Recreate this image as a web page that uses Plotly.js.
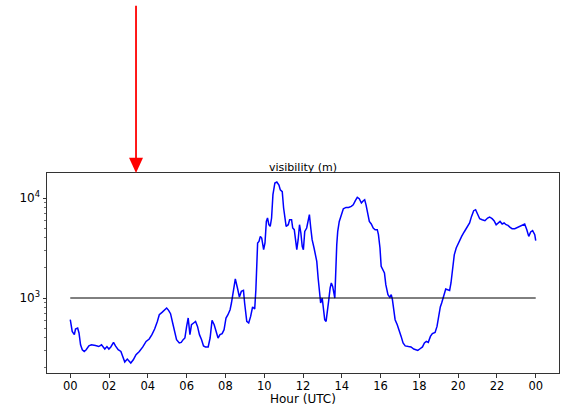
<!DOCTYPE html>
<html>
<head>
<meta charset="utf-8">
<script src="https://cdn.plot.ly/plotly-3.0.1.min.js"></script>
<style>html,body{margin:0;padding:0;background:#fff;}#chart{width:563px;height:405px;}</style>
</head>
<body>
<div id="chart"></div>
<script>
var hours = [
0.00,0.10,0.21,0.27,0.38,0.45,0.53,0.62,0.72,0.82,
0.96,1.09,1.30,1.47,1.61,1.68,1.78,1.89,1.99,2.09,
2.23,2.33,2.47,2.61,2.71,2.81,2.94,3.12,3.25,3.39,
3.56,3.74,3.91,4.07,4.21,4.35,4.49,4.59,4.73,4.87,
4.97,5.07,5.17,5.28,5.38,5.48,5.62,5.72,5.82,5.91,
6.00,6.08,6.17,6.25,6.36,6.46,6.56,6.66,6.77,6.87,
6.97,7.11,7.21,7.31,7.42,7.52,7.62,7.72,7.83,7.93,
8.03,8.13,8.24,8.31,8.41,8.51,8.62,8.72,8.82,8.93,
8.99,9.10,9.20,9.30,9.40,9.51,9.57,9.59,9.66,9.73,
9.80,9.87,9.97,10.04,10.11,10.17,10.24,10.31,10.38,10.45,
10.55,10.65,10.76,10.83,10.93,11.00,11.06,11.13,11.24,11.31,
11.41,11.47,11.55,11.61,11.68,11.75,11.82,11.89,11.96,12.02,
12.09,12.19,12.27,12.33,12.40,12.47,12.57,12.64,12.71,12.78,
12.85,12.91,12.99,13.05,13.12,13.19,13.26,13.32,13.40,13.46,
13.53,13.60,13.64,13.74,13.79,13.87,13.98,14.08,14.22,14.35,
14.49,14.59,14.70,14.80,14.90,15.01,15.11,15.18,15.25,15.32,
15.42,15.52,15.62,15.72,15.83,15.89,15.97,16.03,16.14,16.20,
16.27,16.38,16.48,16.55,16.61,16.69,16.75,16.86,16.96,17.06,
17.16,17.27,17.44,17.57,17.71,17.82,17.92,18.02,18.16,18.26,
18.36,18.46,18.57,18.67,18.81,18.91,18.98,19.08,19.15,19.22,
19.29,19.36,19.46,19.56,19.63,19.70,19.80,19.90,20.04,20.18,
20.31,20.45,20.59,20.69,20.80,20.90,21.00,21.11,21.24,21.38,
21.52,21.62,21.75,21.85,21.96,22.06,22.16,22.27,22.37,22.47,
22.57,22.68,22.78,22.92,23.06,23.19,23.33,23.43,23.54,23.64,
23.74,23.84,23.95,24.00
];
var visibility = [
607,463,430,490,501,447,340,304,292,304,
332,340,335,327,340,324,309,327,309,324,
360,332,304,292,251,229,245,224,241,271,
292,324,368,389,430,490,583,681,718,764,
794,752,697,562,447,383,355,360,383,398,
520,631,430,540,562,583,520,430,383,332,
324,324,398,597,540,463,398,430,440,482,
631,681,764,891,1211,1549,1259,1023,1164,1191,
891,583,562,655,813,776,1211,1710,3548,3681,
4130,3981,3041,3548,5834,6310,5408,5200,6310,10790,
14125,14454,13490,12050,11590,7943,6067,5200,5408,6067,
6067,5012,4819,3828,3041,3828,5408,4467,3281,3041,
4634,5012,6067,6808,5012,3828,3162,2704,2323,1585,
1079,891,1000,794,607,583,708,925,1259,1413,
1306,1038,1000,3404,4634,5834,6808,7816,8054,8054,
8241,8551,9397,10139,9840,8913,9397,9616,8551,7079,
5834,5495,5012,4819,4819,4295,3162,2070,1845,1778,
1358,1079,1014,1079,962,764,607,540,482,413,
355,332,327,324,309,304,299,309,324,355,
368,360,413,440,453,520,655,813,891,1000,
1122,1230,1211,1191,1413,1995,2704,3162,3681,4130,
4571,5012,5623,6546,7464,7638,6808,6209,6067,5929,
6310,6457,6209,5929,5408,5623,5834,5495,5623,5408,
5321,5082,4932,4932,5082,5200,5321,5495,4819,4130,
4571,4710,4295,3741
];
var thresholdHours = [0, 24];
var thresholdValues = [1000, 1000];
var xTickVals = [0,2,4,6,8,10,12,14,16,18,20,22,24];
var xTickText = ["00","02","04","06","08","10","12","14","16","18","20","22","00"];
var yTickVals = [1000, 10000];
var yTickText = ["10<sup>3</sup>", "10<sup>4</sup>"];
var yMinorVals = [200,300,400,500,600,700,800,900,2000,3000,4000,5000,6000,7000,8000,9000];
var arrowHour = 3.39;

var font = "DejaVu Sans, sans-serif";

var traces = [
  {x: hours, y: visibility, type: "scatter", mode: "lines",
   line: {color: "#0000ff", width: 1.5}, hoverinfo: "skip"},
  {x: thresholdHours, y: thresholdValues, type: "scatter", mode: "lines",
   line: {color: "#000000", width: 1}, hoverinfo: "skip"}
];

var layout = {
  width: 563, height: 405,
  margin: {l: 47, r: 4, t: 173, b: 32},
  paper_bgcolor: "#ffffff", plot_bgcolor: "#ffffff",
  showlegend: false,
  font: {family: font, color: "#000000", size: 12},
  title: {text: "visibility (m)", font: {family: font, size: 11, color: "#000"},
          x: 0.5, xanchor: "center", xref: "paper", y: 1, yref: "paper", yanchor: "bottom", pad: {b: 2}},
  xaxis: {
    range: [-1.2, 25.2], tickmode: "array", tickvals: xTickVals, ticktext: xTickText,
    showgrid: false, zeroline: false, showline: true, mirror: true, linecolor: "#333", linewidth: 1,
    ticks: "outside", ticklen: 3.5, tickwidth: 1, tickcolor: "#333", ticklabelstandoff: -1,
    tickfont: {family: font, size: 11.5, color: "#000"}
  },
  yaxis: {
    type: "log", range: [2.25, 4.25], tickmode: "array", tickvals: yTickVals, ticktext: yTickText,
    showgrid: false, zeroline: false, showline: true, mirror: true, linecolor: "#333", linewidth: 1,
    ticks: "outside", ticklen: 3.5, tickwidth: 1, tickcolor: "#333",
    tickfont: {family: font, size: 12, color: "#000"},
    minor: {tickmode: "array", tickvals: yMinorVals, ticks: "outside", ticklen: 2, tickwidth: 0.7, tickcolor: "#333", showgrid: false}
  },
  annotations: [
    {text: "Hour (UTC)", xref: "paper", yref: "paper", x: 0.5, y: 0, xanchor: "center", yanchor: "middle",
     yshift: -25.5, borderpad: 0, showarrow: false, font: {family: font, size: 12, color: "#000"}}
  ],
  shapes: [
    {type: "line", xref: "x", yref: "paper", x0: arrowHour, x1: arrowHour, y0: 1.8365, y1: 1.07,
     line: {color: "#ff0000", width: 1.8}},
    {type: "path", xref: "x", yref: "paper",
     path: "M " + (arrowHour - 0.36) + ",1.0765 L " + (arrowHour + 0.36) + ",1.0765 L " + arrowHour + ",1.0 Z",
     fillcolor: "#ff0000", line: {width: 0}}
  ]
};

Plotly.newPlot("chart", traces, layout, {displayModeBar: false, staticPlot: true});
</script>
</body>
</html>
